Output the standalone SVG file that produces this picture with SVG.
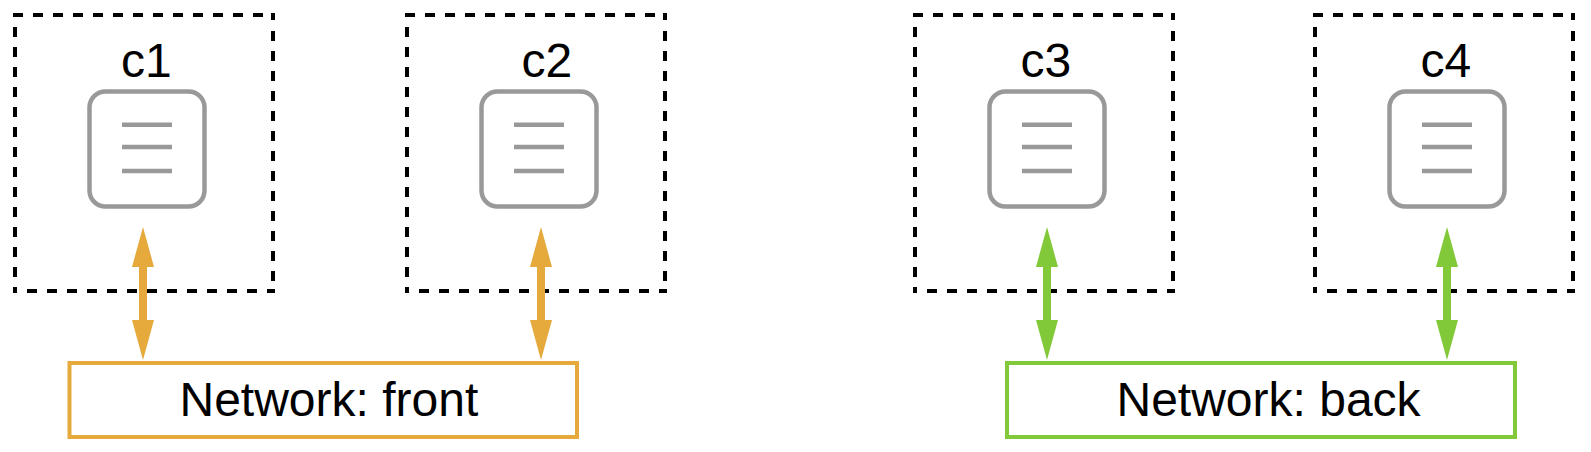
<svg xmlns="http://www.w3.org/2000/svg" xmlns:xlink="http://www.w3.org/1999/xlink" width="1591" height="452" viewBox="0 0 1591 452">
  <style>
    text { font-family: "Liberation Sans", Arial, sans-serif; font-size: 48px; fill: #000; }
    .box { fill: none; stroke: #000; stroke-width: 4; stroke-dasharray: 10 10; }
    .ico { fill: none; stroke: #999; stroke-width: 4.5; }
    .net { fill: #fff; stroke-width: 4; }
    .front { stroke: #E6A93C; }
    .back { stroke: #82C93A; }
    .link { fill: none; stroke-width: 8; }
  </style>
  <defs>
    <path id="dashbox" class="box" d="M-2 0H260M258 -2V5M258 16V278M0 12V278M12 276H260"/>
    <g id="icon">
      <rect class="ico" x="-57.5" y="91.5" width="115" height="115" rx="16" ry="16"/>
      <path class="ico" d="M-25 124.7H25M-25 147H25M-25 171H25"/>
    </g>
    <marker id="headFront" markerUnits="userSpaceOnUse" markerWidth="41" markerHeight="24" refX="0" refY="11" orient="auto-start-reverse">
      <path d="M0 0L40 11L0 22Z" fill="#E6A93C"/>
    </marker>
    <marker id="headBack" markerUnits="userSpaceOnUse" markerWidth="41" markerHeight="24" refX="0" refY="11" orient="auto-start-reverse">
      <path d="M0 0L40 11L0 22Z" fill="#82C93A"/>
    </marker>
  </defs>
  <rect width="1591" height="452" fill="#fff"/>
  <g id="c1">
    <use xlink:href="#dashbox" href="#dashbox" x="15" y="15"/>
    <text x="121" y="77">c1</text>
    <use xlink:href="#icon" href="#icon" x="147" y="0"/>
  </g>
  <g id="c2">
    <use xlink:href="#dashbox" href="#dashbox" x="407" y="15"/>
    <text x="521.5" y="77">c2</text>
    <use xlink:href="#icon" href="#icon" x="539" y="0"/>
  </g>
  <g id="c3">
    <use xlink:href="#dashbox" href="#dashbox" x="915" y="15"/>
    <text x="1020.5" y="77">c3</text>
    <use xlink:href="#icon" href="#icon" x="1047" y="0"/>
  </g>
  <g id="c4">
    <use xlink:href="#dashbox" href="#dashbox" x="1315" y="15"/>
    <text x="1420.5" y="77">c4</text>
    <use xlink:href="#icon" href="#icon" x="1447" y="0"/>
  </g>
  <g id="network-front">
    <rect class="net front" x="69.5" y="363" width="507.5" height="74"/>
    <text x="179.5" y="416">Network: front</text>
  </g>
  <g id="network-back">
    <rect class="net back" x="1007" y="363" width="508" height="74"/>
    <text x="1116.5" y="416">Network: back</text>
  </g>
  <g id="connectors">
    <line class="link front" x1="143" y1="267" x2="143" y2="320" marker-start="url(#headFront)" marker-end="url(#headFront)"/>
    <line class="link front" x1="541" y1="267" x2="541" y2="320" marker-start="url(#headFront)" marker-end="url(#headFront)"/>
    <line class="link back" x1="1047" y1="267" x2="1047" y2="320" marker-start="url(#headBack)" marker-end="url(#headBack)"/>
    <line class="link back" x1="1447" y1="267" x2="1447" y2="320" marker-start="url(#headBack)" marker-end="url(#headBack)"/>
  </g>
</svg>
